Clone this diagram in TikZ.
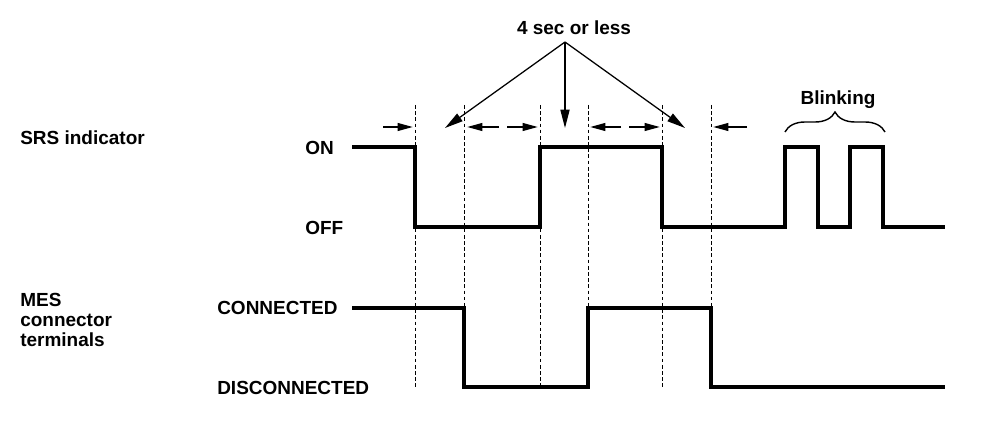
\documentclass[tikz,border=0pt]{standalone}
\usepackage{fontspec}
\setmainfont{Liberation Sans}
\usetikzlibrary{arrows.meta,decorations.pathreplacing}

\tikzset{
  lbl/.style={font=\bfseries\fontsize{13.5}{14.2}\selectfont, inner sep=0pt},
  wave/.style={line width=2.2pt, line join=miter},
  guide/.style={line width=0.6pt, dash pattern=on 2.6pt off 1.8pt},
  tick/.style={-{Triangle[length=11pt,width=5.5pt]}, line width=1.4pt},
  pointer/.style={-{Triangle[length=13pt,width=6.5pt]}, line width=0.9pt},
}

\begin{document}
\begin{tikzpicture}[x=0.025cm,y=-0.025cm]
\useasboundingbox (0,0) rectangle (1008,446);

% signal names
\node[lbl,anchor=west] (srs) at (20,138) {SRS indicator};
\node[lbl,anchor=west] (on) at (305,148) {ON};
\node[lbl,anchor=west] (off) at (305,228) {OFF};
\node[lbl,anchor=west,align=left] (mes) at (20,320) {MES\\connector\\terminals};
\node[lbl,anchor=west] (conn) at (217,308) {CONNECTED};
\node[lbl,anchor=west] (disc) at (217,388) {DISCONNECTED};

% timing marks
\foreach \x in {415,464,540,588,662,711}
  \draw[guide] (\x,105) -- (\x,387);

% waveforms
\draw[wave] (352,147) -- (415,147) -- (415,227) -- (540,227) -- (540,147)
  -- (662,147) -- (662,227) -- (785,227) -- (785,147) -- (818,147)
  -- (818,227) -- (850,227) -- (850,147) -- (883,147) -- (883,227) -- (945,227);
\draw[wave] (352,308) -- (464,308) -- (464,387) -- (588,387) -- (588,308)
  -- (711,308) -- (711,387) -- (945,387);

% intervals
\draw[tick] (383,127) -- (413,127);
\draw[tick] (499,127) -- (467,127);
\draw[tick] (507,127) -- (538,127);
\draw[tick] (621,127) -- (590,127);
\draw[tick] (629,127) -- (660,127);
\draw[tick] (747,127) -- (713,127);

\node[lbl] (sec) at (574,28) {4 sec or less};
\coordinate (apex) at (565,42);
\coordinate (tipl) at (445,128);
\coordinate (tipm) at (565,128);
\coordinate (tipr) at (685,128);
\draw[pointer] (apex) -- (tipl);
\draw[pointer] (apex) -- (tipm);
\draw[pointer] (apex) -- (tipr);

% blinking
\node[lbl] (blink) at (838,100) {Blinking};
\draw[line width=1pt,decorate,decoration={brace,amplitude=0.5cm}]
  (785,132) -- (885,132);
\end{tikzpicture}
\end{document}
